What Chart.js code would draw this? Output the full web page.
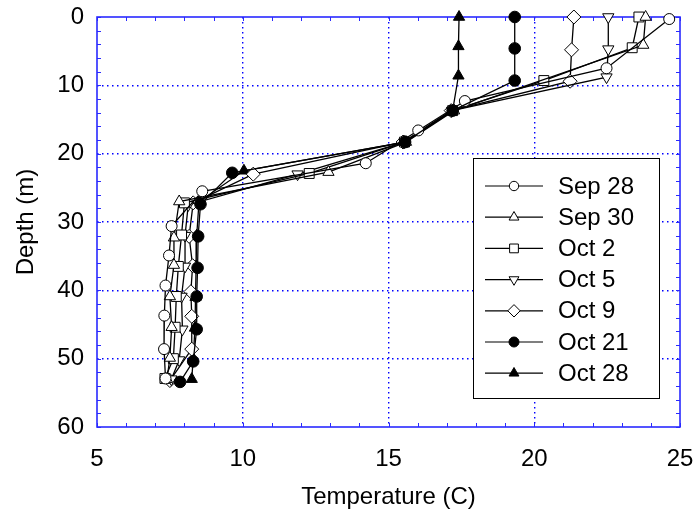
<!DOCTYPE html>
<html>
<head>
<meta charset="utf-8">
<script src="https://cdn.jsdelivr.net/npm/chart.js@4/dist/chart.umd.min.js"></script>
<style>
  html, body { margin: 0; padding: 0; background: #fff; }
  #wrap { width: 698px; height: 518px; }
</style>
</head>
<body>
<div id="wrap"><canvas id="profile" width="698" height="518"></canvas></div>
<script>
// temperature profiles, depth (m) vs temperature (C)
const labels = ["Sep 28", "Sep 30", "Oct 2", "Oct 5", "Oct 9", "Oct 21", "Oct 28"];

const depthSep28 = [0.3, 7.5, 12.3, 16.6, 21.4, 25.5, 30.6, 34.9, 39.3, 43.7, 48.6, 52.9];
const tempSep28  = [24.63, 22.48, 17.62, 16.02, 14.22, 8.61, 7.56, 7.47, 7.35, 7.31, 7.30, 7.35];

const depthSep30 = [0, 4.1, 13.7, 18.3, 22.7, 27.0, 32.3, 36.3, 40.9, 45.4, 49.9, 53.0];
const tempSep30  = [23.82, 23.74, 17.25, 15.6, 12.94, 7.82, 7.64, 7.64, 7.50, 7.56, 7.50, 7.40];

const depthOct2 = [0, 4.5, 9.3, 13.7, 18.3, 22.9, 27.2, 31.9, 36.5, 40.9, 45.4, 50.0, 52.9];
const tempOct2  = [23.59, 23.36, 20.33, 17.2, 15.55, 12.28, 8.0, 7.90, 7.79, 7.72, 7.68, 7.62, 7.33];

const depthOct5 = [0, 4.7, 8.8, 13.7, 18.3, 23.0, 27.5, 32.0, 36.5, 40.9, 45.7, 50.2, 53.0];
const tempOct5  = [22.54, 22.54, 22.48, 17.18, 15.55, 11.88, 8.13, 8.02, 8.02, 7.90, 7.93, 7.82, 7.55];

const depthOct9 = [0, 4.8, 9.4, 13.7, 18.3, 23.0, 27.2, 32.1, 36.4, 40.2, 43.8, 48.6, 53.2];
const tempOct9  = [21.36, 21.28, 21.23, 17.15, 15.5, 10.36, 8.30, 8.16, 8.28, 8.22, 8.25, 8.25, 7.50];

const depthOct21 = [0, 4.6, 9.3, 13.7, 18.3, 22.8, 27.4, 32.1, 36.7, 40.9, 45.7, 50.4, 53.4];
const tempOct21  = [19.33, 19.33, 19.33, 17.2, 15.57, 9.64, 8.55, 8.47, 8.45, 8.42, 8.42, 8.30, 7.85];

const depthOct28 = [0, 4.3, 8.6, 13.7, 18.3, 22.5, 27.0, 32.0, 36.5, 41.0, 45.5, 50.0, 53.0];
const tempOct28  = [17.42, 17.40, 17.40, 17.2, 15.55, 10.04, 8.50, 8.42, 8.40, 8.38, 8.36, 8.30, 8.25];

const xTicks = [5, 10, 15, 20, 25];
const yTicks = [0, 10, 20, 30, 40, 50, 60];

const depths = [depthSep28, depthSep30, depthOct2, depthOct5, depthOct9, depthOct21, depthOct28];
const temps = [tempSep28, tempSep30, tempOct2, tempOct5, tempOct9, tempOct21, tempOct28];
const markers = [
  { style: "circle", fill: "#fff", rot: 0, r: 5.5 },
  { style: "triangle", fill: "#fff", rot: 0, r: 6.5 },
  { style: "rect", fill: "#fff", rot: 0, r: 7 },
  { style: "triangle", fill: "#fff", rot: 180, r: 6.5 },
  { style: "rectRot", fill: "#fff", rot: 0, r: 7 },
  { style: "circle", fill: "#000", rot: 0, r: 5.8 },
  { style: "triangle", fill: "#000", rot: 0, r: 6.5 }
];

const FONT = "'Liberation Sans', Arial, sans-serif";
const AXIS_BLUE = "#2a2aff";
const GRID_BLUE = "#0000ff";

const datasets = labels.map((lab, i) => ({
  label: lab,
  data: depths[i].map((d, j) => ({ x: temps[i][j], y: d })),
  showLine: true,
  clip: false,
  borderColor: "#000",
  borderWidth: 1.3,
  pointStyle: markers[i].style,
  pointRotation: markers[i].rot,
  pointRadius: markers[i].r,
  pointBackgroundColor: markers[i].fill,
  pointBorderColor: "#000",
  pointBorderWidth: 1,
  order: i === 5 ? -1 : i
}));

// frame, inward ticks on all four sides, and the boxed legend
const frameAndLegend = {
  id: "frameAndLegend",
  beforeDatasetsDraw(chart) {
    const { ctx, chartArea: a, scales } = chart;
    const xs = scales.x, ys = scales.y;
    ctx.save();
    ctx.strokeStyle = AXIS_BLUE;
    ctx.lineWidth = 1;
    ctx.beginPath();
    for (let v = 5; v <= 25; v += 1) {
      const px = Math.round(xs.getPixelForValue(v)) + 0.5;
      ctx.moveTo(px, a.bottom); ctx.lineTo(px, a.bottom - 4);
      ctx.moveTo(px, a.top); ctx.lineTo(px, a.top + 4);
    }
    for (let v = 0; v <= 60; v += 2) {
      const py = Math.round(ys.getPixelForValue(v)) + 0.5;
      ctx.moveTo(a.left, py); ctx.lineTo(a.left + 4, py);
      ctx.moveTo(a.right, py); ctx.lineTo(a.right - 4, py);
    }
    ctx.stroke();
    ctx.lineWidth = 1.6;
    ctx.strokeRect(a.left, a.top, a.right - a.left, a.bottom - a.top);
    ctx.restore();
  },
  afterDatasetsDraw(chart) {
    const { ctx } = chart;
    ctx.save();
    const bx = 473, by = 158, bw = 186, bh = 240;
    ctx.fillStyle = "#fff";
    ctx.fillRect(bx, by, bw, bh);
    ctx.strokeStyle = "#000";
    ctx.lineWidth = 1;
    ctx.strokeRect(bx + 0.5, by + 0.5, bw, bh);
    ctx.font = "24px " + FONT;
    ctx.textBaseline = "middle";
    ctx.textAlign = "left";
    chart.data.datasets.forEach((ds, i) => {
      const ry = 186 + i * 31.2;
      ctx.strokeStyle = "#000";
      ctx.lineWidth = 1.2;
      ctx.beginPath();
      ctx.moveTo(485, ry); ctx.lineTo(543, ry);
      ctx.stroke();
      ctx.fillStyle = markers[i].fill;
      ctx.lineWidth = 1;
      Chart.helpers.drawPoint(ctx, {
        pointStyle: markers[i].style,
        rotation: markers[i].rot,
        radius: markers[i].r - 0.8,
        borderWidth: 1
      }, 514, ry);
      ctx.fillStyle = "#000";
      ctx.fillText(ds.label, 558, ry + 1);
    });
    ctx.restore();
  }
};

const ctx = document.getElementById("profile").getContext("2d");
new Chart(ctx, {
  type: "scatter",
  data: { datasets },
  options: {
    responsive: false,
    animation: false,
    layout: { padding: { top: 17, right: 18, left: 0, bottom: 0 } },
    plugins: { legend: { display: false }, tooltip: { enabled: false } },
    scales: {
      x: {
        type: "linear",
        min: 5, max: 25,
        afterBuildTicks: s => { s.ticks = xTicks.map(v => ({ value: v })); },
        afterFit: s => { s.height = 91; s.paddingLeft = 0; s.paddingRight = 0; },
        ticks: { color: "#000", font: { size: 24, family: FONT }, padding: 18, maxRotation: 0 },
        grid: {
          drawTicks: false,
          color: c => (c.tick && c.tick.value > 5 && c.tick.value < 25) ? GRID_BLUE : "rgba(0,0,0,0)",
          lineWidth: 1.4
        },
        border: { display: false, dash: [1.5, 3.5] },
        title: { display: true, text: "Temperature (C)", color: "#000", font: { size: 24, family: FONT }, padding: { top: 0, bottom: 6 } }
      },
      y: {
        type: "linear",
        reverse: true,
        min: 0, max: 60,
        afterBuildTicks: s => { s.ticks = yTicks.map(v => ({ value: v })); },
        afterFit: s => { s.width = 97; s.paddingTop = 0; s.paddingBottom = 0; },
        ticks: { color: "#000", font: { size: 24, family: FONT }, padding: 13 },
        grid: {
          drawTicks: false,
          color: c => (c.tick && c.tick.value > 0 && c.tick.value < 60) ? GRID_BLUE : "rgba(0,0,0,0)",
          lineWidth: 1.4
        },
        border: { display: false, dash: [1.5, 3.5] },
        title: { display: true, text: "Depth (m)", color: "#000", font: { size: 24, family: FONT }, padding: { top: 12, bottom: 0 } }
      }
    }
  },
  plugins: [frameAndLegend]
});
</script>
</body>
</html>
